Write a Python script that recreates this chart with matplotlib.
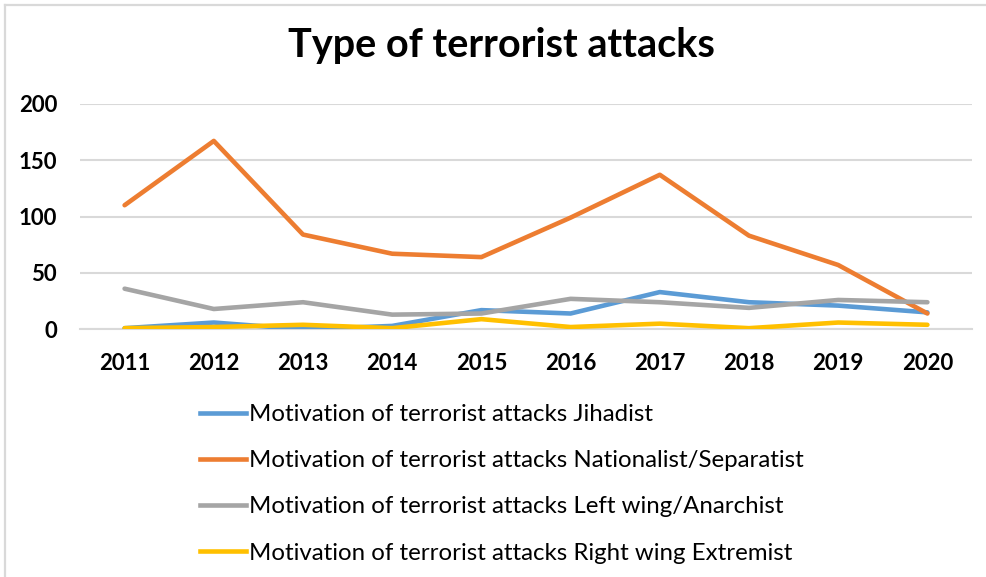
import matplotlib
matplotlib.use("Agg")
import matplotlib.pyplot as plt
from matplotlib.lines import Line2D

years = ["2011", "2012", "2013", "2014", "2015", "2016", "2017", "2018", "2019", "2020"]
jihadist = [1, 6, 0, 3, 17, 14, 33, 24, 21, 15]
nationalist = [110, 167, 84, 67, 64, 99, 137, 83, 57, 14]
left_wing = [36, 18, 24, 13, 14, 27, 24, 19, 26, 24]
right_wing = [1, 2, 4, 1, 9, 2, 5, 1, 6, 4]

labels = [
    "Motivation of terrorist attacks Jihadist",
    "Motivation of terrorist attacks Nationalist/Separatist",
    "Motivation of terrorist attacks Left wing/Anarchist",
    "Motivation of terrorist attacks Right wing Extremist",
]
colors = ["#5B9BD5", "#ED7D31", "#A5A5A5", "#FFC000"]
series = [jihadist, nationalist, left_wing, right_wing]

plt.rcParams["font.family"] = ["Lato", "DejaVu Sans"]

W, H = 987, 577
fig = plt.figure(figsize=(W / 100, H / 100), dpi=100)
ax = fig.add_axes([80 / W, 1 - 329.3 / H, (972 - 80) / W, (329.3 - 103.7) / H])

x = list(range(len(years)))
for vals, col, lab in zip(series, colors, labels):
    ax.plot(x, vals, color=col, lw=3.3, label=lab, solid_capstyle="round",
            solid_joinstyle="round", zorder=3)

ax.set_xlim(-0.5, len(years) - 0.5)
ax.set_ylim(0, 200)
ax.set_yticks([0, 50, 100, 150, 200])
ax.set_xticks(x)
ax.set_xticklabels(years)
ax.tick_params(axis="both", length=0, labelsize=16, colors="black")
ax.tick_params(axis="x", pad=17)
ax.tick_params(axis="y", pad=16.5)
for t in ax.get_xticklabels() + ax.get_yticklabels():
    t.set_fontweight("bold")
ax.grid(axis="y", color="#D9D9D9", lw=1.5, zorder=0)
ax.set_axisbelow(True)
for s in ax.spines.values():
    s.set_visible(False)
ax.spines["bottom"].set_visible(True)
ax.spines["bottom"].set_color("#D9D9D9")
ax.spines["bottom"].set_linewidth(1.5)

fig.text(501 / W, 1 - 57 / H, "Type of terrorist attacks", ha="center", va="baseline",
         fontsize=28.5, fontweight="bold", color="black")

handles = [Line2D([0], [0], color=c, lw=3.3) for c in colors]
fig.legend(handles, labels, loc="upper left", bbox_to_anchor=(200 / W, 1 - 404 / H),
           frameon=False, fontsize=17.3, handlelength=1.9, handletextpad=0.15,
           labelspacing=1.05, borderpad=0, borderaxespad=0)

# chart frame edges
fig.add_artist(Line2D([5.5 / W, 1], [1 - 4.5 / H, 1 - 4.5 / H], color="#D9D9D9", lw=1.6,
                      transform=fig.transFigure))
fig.add_artist(Line2D([5.5 / W, 5.5 / W], [0, 1 - 4.5 / H], color="#D9D9D9", lw=1.6,
                      transform=fig.transFigure))

fig.savefig("out.png", dpi=100, facecolor="white")
